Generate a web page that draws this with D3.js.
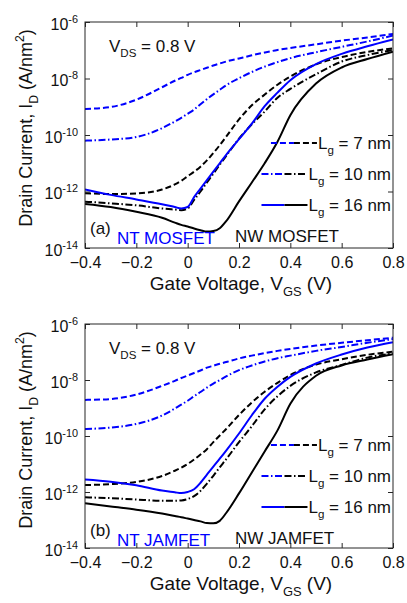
<!DOCTYPE html>
<html>
<head>
<meta charset="utf-8">
<script src="https://cdn.jsdelivr.net/npm/d3@7"></script>
<style>
  html, body { margin: 0; padding: 0; background: #fff; }
  svg { display: block; font-family: "Liberation Sans", Arial, sans-serif; }
</style>
</head>
<body>
<svg id="chart" width="407" height="603"></svg>
<script>
// Gate voltage sweep shared by every curve (V)
const gateVoltage = [-0.4, -0.3, -0.2, -0.1, -0.05, -0.025, 0, 0.025, 0.05, 0.075, 0.1,
  0.125, 0.15, 0.2, 0.25, 0.3, 0.35, 0.4, 0.5, 0.6, 0.7, 0.8];

// log10 of drain current (A/nm^2), panel (a): MOSFETs
const ntMos7  = [-9.08, -9.01, -8.75, -8.31, -8.08, -7.98, -7.87, -7.78, -7.70, -7.62, -7.54,
  -7.47, -7.40, -7.29, -7.18, -7.08, -6.99, -6.92, -6.79, -6.66, -6.55, -6.42];
const ntMos10 = [-10.20, -10.16, -10.07, -9.76, -9.52, -9.39, -9.25, -9.10, -8.91, -8.73, -8.56,
  -8.40, -8.24, -7.99, -7.77, -7.58, -7.42, -7.28, -7.07, -6.88, -6.69, -6.48];
const ntMos16 = [-11.93, -12.12, -12.28, -12.45, -12.55, -12.60, -12.55, -12.20, -11.90, -11.60, -11.30,
  -11.00, -10.70, -10.15, -9.60, -8.98, -8.50, -8.06, -7.49, -7.13, -6.86, -6.62];
const nwMos7  = [-12.06, -12.09, -12.07, -11.93, -11.75, -11.62, -11.46, -11.30, -11.12, -10.90, -10.64,
  -10.36, -10.06, -9.45, -8.95, -8.57, -8.22, -7.93, -7.50, -7.24, -7.06, -6.93];
const nwMos10 = [-12.36, -12.42, -12.49, -12.60, -12.64, -12.66, -12.60, -12.30, -12.00, -11.68, -11.37,
  -11.05, -10.74, -10.13, -9.62, -9.17, -8.68, -8.37, -7.85, -7.40, -7.17, -6.99];
const nwMos16 = [-12.44, -12.55, -12.72, -12.93, -13.10, -13.18, -13.24, -13.31, -13.37, -13.42, -13.40,
  -13.30, -13.05, -12.35, -11.68, -11.00, -10.24, -9.30, -8.18, -7.61, -7.31, -7.05];

// log10 of drain current (A/nm^2), panel (b): JAMFETs
const ntJam7  = [-8.71, -8.68, -8.52, -8.21, -8.03, -7.93, -7.84, -7.75, -7.66, -7.56, -7.49,
  -7.42, -7.36, -7.23, -7.13, -7.04, -6.96, -6.89, -6.77, -6.67, -6.58, -6.49];
const ntJam10 = [-9.75, -9.70, -9.57, -9.27, -9.02, -8.88, -8.74, -8.58, -8.43, -8.27, -8.13,
  -8.00, -7.87, -7.65, -7.48, -7.34, -7.22, -7.13, -6.96, -6.82, -6.67, -6.54];
const ntJam16 = [-11.55, -11.63, -11.76, -11.95, -12.01, -12.04, -12.00, -11.90, -11.67, -11.38, -11.09,
  -10.81, -10.52, -9.91, -9.26, -8.67, -8.24, -7.89, -7.41, -7.09, -6.84, -6.65];
const nwJam7  = [-11.75, -11.72, -11.64, -11.43, -11.24, -11.13, -11.00, -10.84, -10.66, -10.47, -10.22,
  -9.98, -9.75, -9.25, -8.80, -8.42, -8.10, -7.82, -7.45, -7.26, -7.10, -6.99];
const nwJam10 = [-12.19, -12.22, -12.27, -12.31, -12.31, -12.30, -12.25, -12.15, -11.96, -11.70, -11.42,
  -11.12, -10.83, -10.22, -9.65, -9.05, -8.58, -8.21, -7.73, -7.46, -7.20, -7.05];
const nwJam16 = [-12.40, -12.52, -12.63, -12.77, -12.86, -12.90, -12.95, -13.00, -13.05, -13.11, -13.12,
  -13.03, -12.75, -12.05, -11.30, -10.55, -9.80, -8.85, -7.85, -7.48, -7.27, -7.08];

// Axis ticks
const xTicks = [-0.4, -0.2, 0, 0.2, 0.4, 0.6, 0.8];
const yTickExponents = [-14, -12, -10, -8, -6];

// Legend entries (gate length) and their dash styles
const gateLengths = ["7 nm", "10 nm", "16 nm"];
const dashStyles = ["6,3", "7,2.5,1.5,2.5", null];

const BLUE = "#0000ff", BLACK = "#000000", FRAME = "#262626";
const svg = d3.select("#chart");
svg.append("rect").attr("width", 407).attr("height", 603).attr("fill", "#fff");

const x = d3.scaleLinear().domain([-0.4, 0.8]).range([85, 393]);

// Writes text made of plain / subscript / superscript runs
function richText(sel, parts, fs) {
  let shift = 0;
  parts.forEach(p => {
    const ts = sel.append("tspan").text(p.t);
    const target = p.sub ? fs * 0.32 : p.sup ? -fs * 0.42 : 0;
    ts.attr("dy", target - shift);
    shift = target;
    if (p.sub || p.sup) ts.attr("font-size", fs * 0.68);
  });
}

function drawPanel(cfg) {
  const g = svg.append("g");
  const y = d3.scaleLog().domain([1e-14, 1e-6]).range([cfg.bottom, cfg.top]);
  const clipId = "clip-" + cfg.tag;
  svg.append("clipPath").attr("id", clipId).append("rect")
    .attr("x", 85).attr("y", cfg.top).attr("width", 308).attr("height", cfg.bottom - cfg.top);

  const yVals = yTickExponents.map(e => Math.pow(10, e));
  const fmtX = d => d === 0 ? "0" : d3.format(".1f")(d);

  // bottom axis with labels
  const ax = g.append("g").attr("transform", `translate(0,${cfg.bottom})`)
    .call(d3.axisBottom(x).tickValues(xTicks).tickSizeInner(-5).tickSizeOuter(0)
      .tickPadding(9).tickFormat(fmtX));
  ax.selectAll("text").attr("font-size", 16).attr("fill", "#111")
    .attr("font-family", "Liberation Sans, Arial, sans-serif");
  // top axis, ticks only
  g.append("g").attr("transform", `translate(0,${cfg.top})`)
    .call(d3.axisTop(x).tickValues(xTicks).tickSizeInner(-5).tickSizeOuter(0).tickFormat(""));
  // left axis with power-of-ten labels
  const ay = g.append("g").attr("transform", "translate(85,0)")
    .call(d3.axisLeft(y).tickValues(yVals).tickSizeInner(-5).tickSizeOuter(0)
      .tickPadding(8).tickFormat(""));
  ay.selectAll(".tick").each(function(d) {
    const t = d3.select(this).append("text")
      .attr("x", -7).attr("y", 7).attr("text-anchor", "end")
      .attr("font-size", 16).attr("fill", "#111")
      .attr("font-family", "Liberation Sans, Arial, sans-serif");
    richText(t, [{t: "10"}, {t: "-" + (-Math.round(Math.log10(d))), sup: true}], 16);
  });
  // right axis, ticks only
  g.append("g").attr("transform", "translate(393,0)")
    .call(d3.axisRight(y).tickValues(yVals).tickSizeInner(-5).tickSizeOuter(0).tickFormat(""));
  g.selectAll(".domain").remove();
  g.selectAll(".tick line").attr("stroke", FRAME);

  // curves
  const line = d3.line().x(d => x(d[0])).y(d => y(Math.pow(10, d[1]))).curve(d3.curveMonotoneX);
  const curves = svg.append("g").attr("clip-path", `url(#${clipId})`);
  cfg.series.forEach(s => {
    curves.append("path")
      .datum(gateVoltage.map((v, i) => [v, s.values[i]]))
      .attr("d", line)
      .attr("fill", "none").attr("stroke", s.color).attr("stroke-width", 2)
      .attr("stroke-dasharray", dashStyles[s.style]);
  });

  // frame
  svg.append("rect").attr("x", 85).attr("y", cfg.top).attr("width", 308)
    .attr("height", cfg.bottom - cfg.top).attr("fill", "none")
    .attr("stroke", FRAME).attr("stroke-width", 1);

  // V_DS note
  richText(svg.append("text").attr("x", 109).attr("y", cfg.top + 30)
    .attr("font-size", 17).attr("fill", "#111"),
    [{t: "V"}, {t: "DS", sub: true}, {t: " = 0.8 V"}], 17);

  // legend
  gateLengths.forEach((lg, i) => {
    const ly = cfg.top + 121 + i * 31;
    const t = svg.append("text").attr("x", 391).attr("y", ly + 6)
      .attr("text-anchor", "end").attr("font-size", 17).attr("fill", "#111");
    richText(t, [{t: "L"}, {t: "g", sub: true}, {t: " = " + lg}], 17);
    const start = 391 - t.node().getComputedTextLength() - 1;
    svg.append("line").attr("x1", start - 46).attr("x2", start - 23)
      .attr("y1", ly).attr("y2", ly).attr("stroke", BLUE).attr("stroke-width", 2)
      .attr("stroke-dasharray", dashStyles[i]);
    svg.append("line").attr("x1", start - 23).attr("x2", start)
      .attr("y1", ly).attr("y2", ly).attr("stroke", BLACK).attr("stroke-width", 2)
      .attr("stroke-dasharray", dashStyles[i]);
  });

  // panel tag and device names
  svg.append("text").attr("x", 90).attr("y", cfg.top + 212)
    .attr("font-size", 17).attr("fill", "#111").text(cfg.label);
  svg.append("text").attr("x", 117).attr("y", cfg.top + 222)
    .attr("font-size", 17).attr("fill", BLUE).text(cfg.ntName);
  svg.append("text").attr("x", 235).attr("y", cfg.top + 220)
    .attr("font-size", 17).attr("fill", "#111").text(cfg.nwName);

  // axis titles
  richText(svg.append("text").attr("x", 241).attr("y", cfg.bottom + 42)
    .attr("text-anchor", "middle").attr("font-size", 19).attr("fill", "#111"),
    [{t: "Gate Voltage, V"}, {t: "GS", sub: true}, {t: " (V)"}], 19);
  richText(svg.append("text")
    .attr("transform", `translate(32,${cfg.top + 106}) rotate(-90)`)
    .attr("text-anchor", "middle").attr("font-size", 18).attr("fill", "#111"),
    [{t: "Drain Current, I"}, {t: "D", sub: true}, {t: " (A/nm"}, {t: "2", sup: true}, {t: ")"}], 18);
}

drawPanel({
  tag: "a", top: 22, bottom: 248, label: "(a)", ntName: "NT MOSFET", nwName: "NW MOSFET",
  series: [
    {values: ntMos7, color: BLUE, style: 0},
    {values: ntMos10, color: BLUE, style: 1},
    {values: nwMos7, color: BLACK, style: 0},
    {values: nwMos10, color: BLACK, style: 1},
    {values: nwMos16, color: BLACK, style: 2},
    {values: ntMos16, color: BLUE, style: 2}
  ]
});
drawPanel({
  tag: "b", top: 324, bottom: 548, label: "(b)", ntName: "NT JAMFET", nwName: "NW JAMFET",
  series: [
    {values: ntJam7, color: BLUE, style: 0},
    {values: ntJam10, color: BLUE, style: 1},
    {values: nwJam7, color: BLACK, style: 0},
    {values: nwJam10, color: BLACK, style: 1},
    {values: nwJam16, color: BLACK, style: 2},
    {values: ntJam16, color: BLUE, style: 2}
  ]
});
</script>
</body>
</html>
